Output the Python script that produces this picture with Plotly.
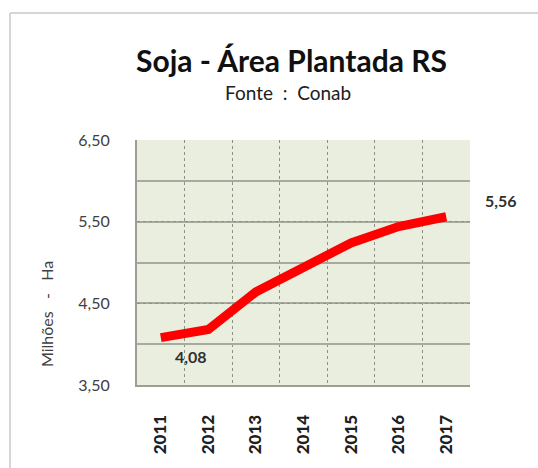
import plotly.graph_objects as go

years = [2011, 2012, 2013, 2014, 2015, 2016, 2017]
area = [4.08, 4.18, 4.64, 4.93, 5.24, 5.44, 5.56]
ytick_vals = [3.5, 4.5, 5.5, 6.5]
ytick_text = ["3,50", "4,50", "5,50", "6,50"]

W, H = 538, 468
L, R, T, B = 137, 470, 140, 385  # plot area in page pixels

fig = go.Figure()
fig.add_trace(go.Scatter(x=years, y=area, mode="lines",
                         line=dict(color="#FF0000", width=9),
                         hoverinfo="skip", showlegend=False))

fig.update_layout(
    width=W, height=H,
    margin=dict(l=L, r=W - R, t=T, b=H - B, pad=0),
    paper_bgcolor="white", plot_bgcolor="#EAEEDF",
    font=dict(family="Lato", color="#404040"),
    showlegend=False,
)
fig.update_xaxes(
    range=[2010.5, 2017.5], tickmode="array", tickvals=years,
    ticktext=[str(y) for y in years], tickangle=-90,
    tickfont=dict(size=17, color="#202020", family="Lato Black, Lato"),
    showgrid=False, zeroline=False, ticks="", ticklabelstandoff=21,
    showline=True, linecolor="#9C9E96", linewidth=2,
    minor=dict(tick0=2010.5, dtick=1, showgrid=True, gridcolor="#8E9088",
               griddash="dot", gridwidth=1),
)
fig.update_yaxes(
    range=[3.5, 6.5], tickmode="array", tickvals=ytick_vals, ticktext=ytick_text,
    tickfont=dict(size=16, color="#404040"),
    showgrid=True, gridcolor="#8E9088", griddash="dot", gridwidth=1,
    zeroline=False, ticks="", ticklabelstandoff=22,
    showline=True, linecolor="#9C9E96", linewidth=2,
    minor=dict(tick0=3.5, dtick=0.5, showgrid=True, gridcolor="#A8AAA0",
               griddash="solid", gridwidth=1.5),
)

pw, ph = R - L, B - T
def px(x): return (x - L) / pw
def py(y): return (B - y) / ph

# outer frame: top and left edges (right/bottom lie outside the picture)
fig.add_shape(type="line", xref="paper", yref="paper",
              x0=px(10), y0=py(13), x1=px(540), y1=py(13),
              line=dict(color="#C8C8C8", width=1.5), layer="below")
fig.add_shape(type="line", xref="paper", yref="paper",
              x0=px(10), y0=py(13), x1=px(10), y1=py(470),
              line=dict(color="#C8C8C8", width=1.5), layer="below")

fig.add_annotation(text="<b>Soja - Área Plantada RS</b>", xref="paper", yref="paper",
                   x=px(291), y=py(60), xanchor="center", yanchor="middle",
                   showarrow=False,
                   font=dict(size=30, color="#101010", family="Lato"))
fig.add_annotation(text="Fonte  :  Conab", xref="paper", yref="paper",
                   x=px(288), y=py(92), xanchor="center", yanchor="middle",
                   showarrow=False,
                   font=dict(size=19, color="#202020", family="Lato"))
fig.add_annotation(text="Milhões   -   Ha", xref="paper", yref="paper",
                   x=px(46), y=py(314), xanchor="center", yanchor="middle",
                   showarrow=False, textangle=-90,
                   font=dict(size=16, color="#404040", family="Lato"))

fig.add_annotation(text="<b>4,08</b>", x=years[0], y=area[0], xref="x", yref="y",
                   showarrow=False, xshift=30, yshift=-19,
                   font=dict(size=16, color="#303030"))
fig.add_annotation(text="<b>5,56</b>", x=years[-1], y=area[-1], xref="x", yref="y",
                   showarrow=False, xshift=55, yshift=16,
                   font=dict(size=16, color="#303030"))

fig.write_html("out.html", config={"displayModeBar": False},
               post_script="document.body.style.margin='0';document.body.style.overflow='hidden';")
